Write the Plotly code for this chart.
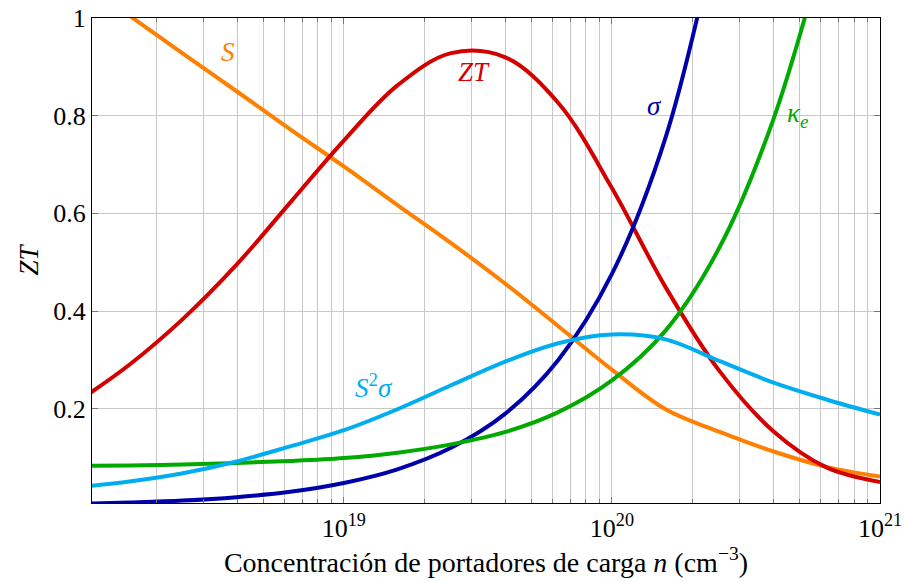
import math
import plotly.graph_objects as go

# carrier concentration n (cm^-3), evenly spaced in log(n)
n_vals = [1e18, 1.585e18, 2.512e18, 3.981e18, 6.31e18, 1e19, 1.585e19, 2.512e19,
          3.981e19, 6.31e19, 1e20, 1.585e20, 2.512e20, 3.981e20, 6.31e20, 1e21]
zt = [0.212, 0.290, 0.384, 0.495, 0.622, 0.749, 0.862, 0.928,
      0.920, 0.826, 0.652, 0.449, 0.278, 0.155, 0.080, 0.050]
seebeck = [1.083, 1.005, 0.927, 0.850, 0.772, 0.696, 0.617, 0.539,
           0.457, 0.369, 0.280, 0.199, 0.153, 0.113, 0.081, 0.061]
power_factor = [0.039, 0.051, 0.068, 0.092, 0.123, 0.156, 0.199, 0.248,
                0.296, 0.334, 0.352, 0.342, 0.298, 0.254, 0.219, 0.188]
n_kappa = n_vals[:15]
kappa_e = [0.083, 0.084, 0.086, 0.089, 0.093, 0.099, 0.110, 0.127,
           0.152, 0.193, 0.258, 0.360, 0.529, 0.789, 1.16]
n_sigma = n_vals[:13]
sigma = [0.005, 0.008, 0.012, 0.019, 0.030, 0.048, 0.076, 0.120,
         0.189, 0.300, 0.476, 0.755, 1.20]

x_major = [1e19, 1e20, 1e21]
x_major_text = ["10<sup>19</sup>", "10<sup>20</sup>", "10<sup>21</sup>"]
x_minor = [k * 10.0 ** e for e in (18, 19, 20) for k in range(2, 10)]
y_ticks = [0.2, 0.4, 0.6, 0.8, 1.0]
y_tick_text = ["0.2", "0.4", "0.6", "0.8", "1"]

C_ORANGE = "rgb(255,128,0)"
C_RED = "rgb(212,0,0)"
C_BLUE = "rgb(0,0,170)"
C_GREEN = "rgb(0,170,0)"
C_CYAN = "rgb(0,174,239)"

FONT = "Liberation Serif, Times New Roman, DejaVu Serif, serif"
LW = 4

fig = go.Figure()
series = [
    (n_vals, seebeck, C_ORANGE),
    (n_vals, zt, C_RED),
    (n_sigma, sigma, C_BLUE),
    (n_kappa, kappa_e, C_GREEN),
    (n_vals, power_factor, C_CYAN),
]
for xs, ys, col in series:
    fig.add_trace(go.Scatter(x=xs, y=ys, mode="lines",
                             line=dict(color=col, width=LW, shape="spline", smoothing=1.0),
                             showlegend=False, hoverinfo="skip"))

labels = [
    (3.69e18, 0.931, "<i>S</i>", C_ORANGE),
    (3.05e19, 0.890, "<i>ZT</i>", C_RED),
    (1.44e20, 0.820, "<i>σ</i>", C_BLUE),
    (4.94e20, 0.802, "<i>κ<sub>e</sub></i>", C_GREEN),
    (1.30e19, 0.247, "<i>S</i><sup>2</sup><i>σ</i>", C_CYAN),
]
for lx, ly, txt, col in labels:
    fig.add_annotation(x=math.log10(lx), y=ly, text=txt, showarrow=False,
                       font=dict(family=FONT, size=27, color=col))

grid = "rgb(200,200,200)"
tickc = "rgb(120,120,120)"
fig.update_layout(
    width=904, height=582,
    margin=dict(l=92, r=24, t=18, b=79, autoexpand=False),
    paper_bgcolor="white", plot_bgcolor="white",
    font=dict(family=FONT, size=26, color="black"),
    xaxis=dict(
        type="log", range=[math.log10(1.15e18), 21],
        tickmode="array", tickvals=x_major, ticktext=x_major_text,
        tickfont=dict(family=FONT, size=26),
        showgrid=True, gridcolor=grid, gridwidth=1,
        ticks="inside", ticklen=6, tickcolor=tickc,
        ticklabelstandoff=2,
        showline=True, linecolor="black", linewidth=1, mirror="allticks",
        minor=dict(tickmode="array", tickvals=x_minor, showgrid=True,
                   gridcolor=grid, gridwidth=1, ticks="inside", ticklen=4,
                   tickcolor=tickc),
        title=dict(text="Concentración de portadores de carga <i>n</i> (cm<sup>−3</sup>)",
                   standoff=8, font=dict(family=FONT, size=28)),
        zeroline=False, automargin=False,
    ),
    yaxis=dict(
        range=[0.007, 1.0],
        tickmode="array", tickvals=y_ticks, ticktext=y_tick_text,
        tickfont=dict(family=FONT, size=26),
        showgrid=True, gridcolor=grid, gridwidth=1,
        ticks="inside", ticklen=6, tickcolor=tickc,
        showline=True, linecolor="black", linewidth=1, mirror="allticks",
        title=dict(text="<i>ZT</i>", standoff=6, font=dict(family=FONT, size=27)),
        zeroline=False, automargin=False,
    ),
)

fig.write_html("out.html")
